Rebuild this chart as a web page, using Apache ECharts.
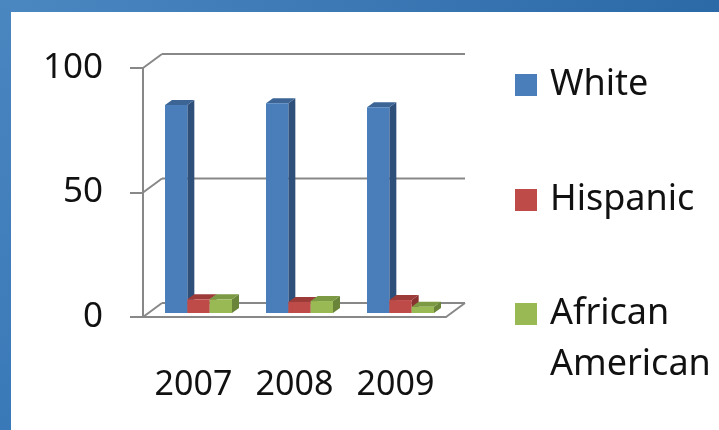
<!DOCTYPE html>
<html>
<head>
<meta charset="utf-8">
<script src="https://cdn.jsdelivr.net/npm/echarts@6/dist/echarts.min.js"></script>
<style>
html,body{margin:0;padding:0;background:#fff;}
#chart{width:719px;height:430px;}
</style>
</head>
<body>
<div id="chart"></div>
<script>
// ---- data ----
const categories = ['2007', '2008', '2009'];
const seriesNames = ['White', 'Hispanic', 'African American'];
const whiteValues = [83.5, 84.2, 82.6];
const hispanicValues = [5.5, 4.4, 5.2];
const africanAmericanValues = [5.5, 4.8, 2.5];
const yTicks = [0, 50, 100];

// ---- style ----
const FONT = 'Noto Sans';
const LINE = '#888888';
const WALL_DX = 19, WALL_DY = -14;     // depth of back wall
const BAR_DX = 5, BAR_DY = -4;         // depth offset of bar front face
const BAR_DEPTH_X = 7, BAR_DEPTH_Y = -5;
const GROUP_FRAC = 0.663;
const palettes = [
  { front: '#4A7EBB', top: '#3C6596', side: '#2D4F7A' },
  { front: '#BE4B48', top: '#9C3B38', side: '#8A3230' },
  { front: '#98B954', top: '#7C9A44', side: '#6A853A' }
];
const valueSets = [whiteValues, hispanicValues, africanAmericanValues];

const chart = echarts.init(document.getElementById('chart'));

function barRenderer(sIdx) {
  return function (params, api) {
    const ci = api.value(0), v = api.value(1);
    const base = api.coord([ci, 0]);
    const topPt = api.coord([ci, v]);
    const band = api.size([1, 0])[0];
    const gw = band * GROUP_FRAC, w = gw / 3;
    const x0 = base[0] - gw / 2 + sIdx * w + BAR_DX;
    const x1 = x0 + w;
    const yb = base[1] + BAR_DY;
    const yt = topPt[1] + BAR_DY;
    const p = palettes[sIdx];
    return {
      type: 'group',
      children: [
        { type: 'polygon', shape: { points: [[x1, yb], [x1, yt], [x1 + BAR_DEPTH_X, yt + BAR_DEPTH_Y], [x1 + BAR_DEPTH_X, yb + BAR_DEPTH_Y]] }, style: { fill: p.side } },
        { type: 'polygon', shape: { points: [[x0, yt], [x1, yt], [x1 + BAR_DEPTH_X, yt + BAR_DEPTH_Y], [x0 + BAR_DEPTH_X, yt + BAR_DEPTH_Y]] }, style: { fill: p.top } },
        { type: 'rect', shape: { x: x0, y: yt, width: w, height: yb - yt }, style: { fill: p.front } }
      ]
    };
  };
}

function wallRenderer(params, api) {
  const cs = params.coordSys;
  const v = api.value(1);
  const y = api.coord([0, v])[1];
  const l = cs.x, r = cs.x + cs.width;
  const st = { stroke: LINE, lineWidth: 2, fill: null };
  const ch = [
    { type: 'line', shape: { x1: l, y1: y, x2: l + WALL_DX, y2: y + WALL_DY }, style: st },
    { type: 'line', shape: { x1: l + WALL_DX, y1: y + WALL_DY, x2: r + WALL_DX, y2: y + WALL_DY }, style: st }
  ];
  if (v === 0) {
    ch.push({ type: 'line', shape: { x1: r, y1: y, x2: r + WALL_DX, y2: y + WALL_DY }, style: st });
  }
  return { type: 'group', children: ch };
}

const series = [{
  type: 'custom',
  name: '__walls',
  clip: false,
  silent: true,
  data: yTicks.map(t => [0, t]),
  encode: { x: 0, y: 1 },
  renderItem: wallRenderer
}];
seriesNames.forEach((name, i) => {
  series.push({
    type: 'custom',
    name: name,
    clip: false,
    itemStyle: { color: palettes[i].front },
    data: valueSets[i].map((v, ci) => [ci, v]),
    encode: { x: 0, y: 1 },
    renderItem: barRenderer(i)
  });
});

function legendFor(name, top, extra) {
  return Object.assign({
    data: [name],
    left: 515,
    top: top,
    padding: 0,
    icon: 'rect',
    itemWidth: 22,
    itemHeight: 22,
    selectedMode: false,
    textStyle: { fontFamily: FONT, fontSize: 36, color: '#111', lineHeight: 40, padding: [0, 0, 0, 8] }
  }, extra || {});
}

chart.setOption({
  animation: false,
  backgroundColor: '#fff',
  grid: { left: 143, right: 273, top: 68, bottom: 113 },
  xAxis: {
    type: 'category',
    data: categories,
    axisLine: { lineStyle: { color: LINE, width: 2 } },
    axisTick: { length: 13, lineStyle: { color: LINE, width: 2 } },
    axisLabel: { fontFamily: FONT, fontSize: 34, color: '#111', margin: 51, interval: 0, hideOverlap: false },
    splitLine: { show: false }
  },
  yAxis: {
    type: 'value',
    min: 0, max: 100, interval: 50,
    axisLine: { show: true, lineStyle: { color: LINE, width: 2 } },
    axisTick: { show: true, length: 13, lineStyle: { color: LINE, width: 2 } },
    axisLabel: { fontFamily: FONT, fontSize: 35, color: '#111', margin: 40 },
    splitLine: { show: false }
  },
  legend: [
    legendFor('White', 65),
    legendFor('Hispanic', 180),
    legendFor('African American', 237.5, {
      formatter: () => '\nAfrican\nAmerican',
      textStyle: { fontFamily: FONT, fontSize: 36, color: '#111', lineHeight: 51, padding: [0, 0, 0, 8] }
    })
  ],
  graphic: [
    { type: 'rect', left: 0, top: 0, silent: true, z: 100,
      shape: { width: 719, height: 12 },
      style: { fill: new echarts.graphic.LinearGradient(0, 0, 1, 0, [{ offset: 0, color: '#4B87C1' }, { offset: 1, color: '#2B69A7' }]) } },
    { type: 'rect', left: 0, top: 0, silent: true, z: 100,
      shape: { width: 11, height: 430 },
      style: { fill: new echarts.graphic.LinearGradient(0, 0, 0, 1, [{ offset: 0, color: '#4A86C0' }, { offset: 1, color: '#3A79B8' }]) } }
  ],
  series: series
});
</script>
</body>
</html>
